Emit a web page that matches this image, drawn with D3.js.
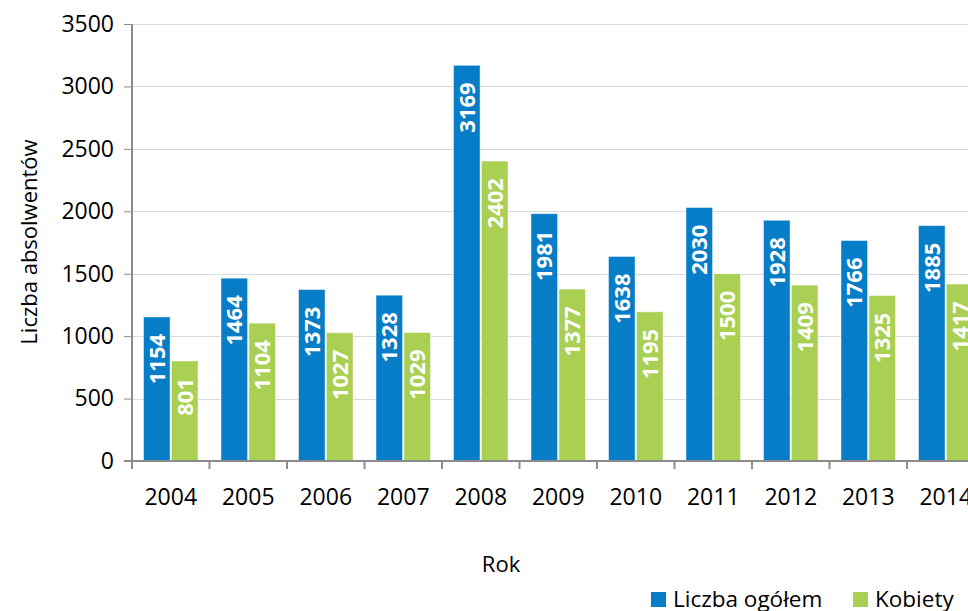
<!DOCTYPE html>
<html>
<head>
<meta charset="utf-8">
<script src="https://cdn.jsdelivr.net/npm/d3@7"></script>
<style>
  html, body { margin: 0; padding: 0; background: #fff; }
  svg { display: block; }
  text { font-family: "Open Sans", sans-serif; }
</style>
</head>
<body>
<svg id="chart" width="968" height="611"></svg>
<script>
const years = ["2004","2005","2006","2007","2008","2009","2010","2011","2012","2013","2014"];
const totalValues = [1154, 1464, 1373, 1328, 3169, 1981, 1638, 2030, 1928, 1766, 1885];
const womenValues = [801, 1104, 1027, 1029, 2402, 1377, 1195, 1500, 1409, 1325, 1417];
const seriesNames = ["Liczba ogółem", "Kobiety"];
const seriesColors = ["#077dc7", "#a9cf53"];
const yTicks = [0, 500, 1000, 1500, 2000, 2500, 3000, 3500];
const xTitle = "Rok";
const yTitle = "Liczba absolwentów";

(function () {
const svg = d3.select("#chart");
const plotLeft = 132, plotTop = 24, plotBottom = 461;
const bandW = 77.5;
const plotRight = plotLeft + bandW * years.length;

const x0 = d3.scaleBand().domain(years).range([plotLeft, plotRight]).padding(0);
const x1 = d3.scaleBand().domain(seriesNames).range([11.5, 66]).paddingInner(0.05).paddingOuter(0);
const y = d3.scaleLinear().domain([0, 3500]).range([plotBottom, plotTop]);

// gridlines
svg.append("g").selectAll("line").data(yTicks.slice(1)).join("line")
  .attr("x1", plotLeft).attr("x2", 968)
  .attr("y1", d => Math.round(y(d)) + 0.5).attr("y2", d => Math.round(y(d)) + 0.5)
  .attr("stroke", "#d9d9d9").attr("stroke-width", 1);

// bars
const data = years.map((yr, i) => ({ yr, vals: [totalValues[i], womenValues[i]] }));
const groups = svg.append("g").selectAll("g").data(data).join("g")
  .attr("transform", d => `translate(${x0(d.yr)},0)`);

groups.selectAll("rect").data(d => d.vals.map((v, j) => ({ v, s: seriesNames[j], j }))).join("rect")
  .attr("x", d => x1(d.s))
  .attr("width", x1.bandwidth())
  .attr("y", d => y(d.v))
  .attr("height", d => plotBottom - y(d.v))
  .attr("fill", d => seriesColors[d.j])
  .attr("stroke", "#ffffff").attr("stroke-opacity", 0.45).attr("stroke-width", 1);

groups.selectAll("text.lbl").data(d => d.vals.map((v, j) => ({ v, s: seriesNames[j], j }))).join("text")
  .attr("class", "lbl")
  .attr("transform", d => `translate(${x1(d.s) + x1.bandwidth() / 2},${y(d.v) + 17}) rotate(-90)`)
  .attr("dy", "0.36em")
  .attr("text-anchor", "end")
  .attr("fill", "#ffffff")
  .attr("font-weight", "bold")
  .attr("font-size", "22px")
  .text(d => d.v);

// y axis
const yAxis = d3.axisLeft(y).tickValues(yTicks).tickFormat(d3.format("d")).tickSize(8).tickPadding(10);
const gy = svg.append("g").attr("transform", `translate(${plotLeft},0)`).call(yAxis);
gy.selectAll("text").attr("font-size", "23px").attr("fill", "#000").attr("font-family", "Open Sans, sans-serif");
gy.selectAll("line").attr("stroke", "#8c8c8c");
gy.select(".domain").attr("stroke", "#8c8c8c").attr("stroke-width", 2).attr("d", `M0,${plotTop}V${plotBottom}`);

// x axis
const gx = svg.append("g").attr("transform", `translate(0,${plotBottom})`);
gx.append("line").attr("x1", plotLeft - 8).attr("x2", 968).attr("y1", 0).attr("y2", 0)
  .attr("stroke", "#8c8c8c").attr("stroke-width", 2);
const boundaries = d3.range(years.length + 1).map(i => i === years.length ? plotRight : x0(years[i]));
gx.selectAll("line.tk").data(boundaries).join("line").attr("class", "tk")
  .attr("x1", d => d).attr("x2", d => d).attr("y1", 0).attr("y2", 8)
  .attr("stroke", "#8c8c8c").attr("stroke-width", 2);
gx.selectAll("text").data(years).join("text")
  .attr("x", d => x0(d) + x0.bandwidth() / 2)
  .attr("y", 44)
  .attr("text-anchor", "middle")
  .attr("font-size", "23px").attr("fill", "#000")
  .text(d => d);

// titles
svg.append("text").attr("x", 501).attr("y", 572).attr("text-anchor", "middle")
  .attr("font-size", "22px").attr("fill", "#000").text(xTitle);
svg.append("text").attr("transform", "translate(37,242) rotate(-90)").attr("text-anchor", "middle")
  .attr("font-size", "22px").attr("fill", "#000").text(yTitle);

// legend
const legendX = [651, 853];
const lg = svg.append("g").selectAll("g").data(seriesNames).join("g")
  .attr("transform", (d, i) => `translate(${legendX[i]},592)`);
lg.append("rect").attr("width", 15).attr("height", 15).attr("fill", (d, i) => seriesColors[i]);
lg.append("text").attr("x", 22).attr("y", 15).attr("font-size", "22.5px").attr("fill", "#000").text(d => d);
})();
</script>
</body>
</html>
